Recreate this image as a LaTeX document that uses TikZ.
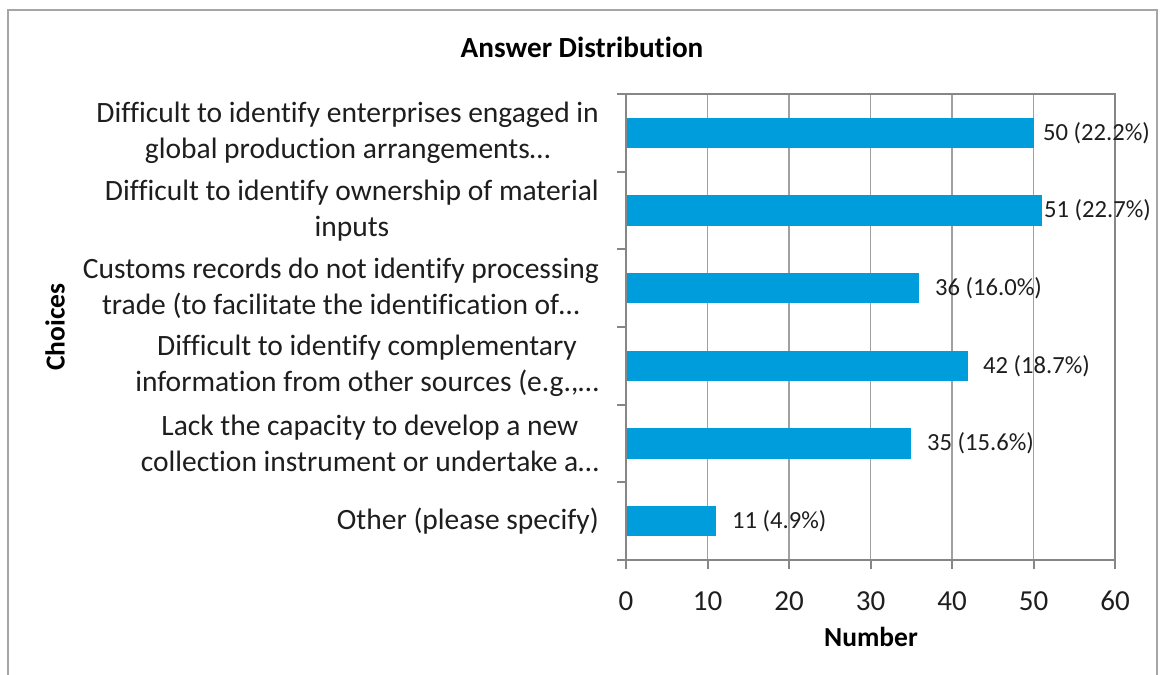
\documentclass[tikz,border=0pt]{standalone}
\usepackage{fontspec}
\setmainfont[Ligatures=NoCommon]{Carlito}
\definecolor{barblue}{RGB}{0,157,220}
\definecolor{gridgray}{RGB}{160,160,160}
\definecolor{axisgray}{RGB}{134,134,134}
\definecolor{framegray}{RGB}{166,166,166}
\definecolor{txt}{RGB}{30,30,30}
\begin{document}
\begin{tikzpicture}[x=1pt,y=-1pt,
  bar/.style={fill=barblue},
  gridline/.style={draw=gridgray,line width=1.3pt},
  axisline/.style={draw=axisgray,line width=2pt},
  catlabel/.style={anchor=east,align=center,inner sep=0pt,text=txt,font=\fontsize{29.5}{35.5}\selectfont},
  vallabel/.style={anchor=west,inner sep=0pt,text=txt,font=\fontsize{24.6}{28}\selectfont},
  ticklabel/.style={anchor=center,inner sep=0pt,text=txt,font=\fontsize{29}{34}\selectfont},
  boldlabel/.style={inner sep=0pt,text=black,font=\fontsize{27.5}{32}\selectfont\bfseries},
  titlelabel/.style={inner sep=0pt,text=black,font=\fontsize{29.2}{34}\selectfont\bfseries}]
\useasboundingbox (0,0) rectangle (1160,675);
\fill[white] (0,0) rectangle (1160,675);
% outer frame
\draw[framegray,line width=1.5pt] (8,690) -- (8,10) -- (1157,10) -- (1157,690);
% title
\node[titlelabel] (title) at (582,47) {Answer Distribution};
% gridlines
\foreach \v in {10,20,30,40,50} {
  \draw[gridline] ({626+\v*8.15},94) -- ({626+\v*8.15},560);
}
% bars
\foreach \v/\i in {50/0,51/1,36/2,42/3,35/4,11/5} {
  \path[bar] (626,{94+77.67*(\i+0.5)-15.3}) rectangle ({626+\v*8.15},{94+77.67*(\i+0.5)+15.3});
}
% plot border
\draw[axisline] (626,94) rectangle (1115,560);
% y ticks
\foreach \i in {0,...,6} {
  \draw[axisline] (617,{94+77.67*\i}) -- (626,{94+77.67*\i});
}
% x ticks and labels
\foreach \v in {0,10,20,30,40,50,60} {
  \draw[axisline] ({626+\v*8.15},560) -- ({626+\v*8.15},569);
  \node[ticklabel] (t\v) at ({626+\v*8.15},601) {\v};
}
% value labels
\node[vallabel] (v1) at (1043,132.8) {50 (22.2\%)};
\node[vallabel] (v2) at (1044,210.5) {51 (22.7\%)};
\node[vallabel] (v3) at (935,288.2) {36 (16.0\%)};
\node[vallabel] (v4) at (983,365.8) {42 (18.7\%)};
\node[vallabel] (v5) at (927,443.5) {35 (15.6\%)};
\node[vallabel] (v6) at (732,521.2) {11 (4.9\%)};
% category labels
\node[catlabel] (c1) at (599,132.8) {Difficult to identify enterprises engaged in\\global production arrangements\ldots};
\node[catlabel] (c2) at (599,210.5) {Difficult to identify ownership of material\\inputs};
\node[catlabel] (c3) at (599,288.2) {Customs records do not identify processing\\trade (to facilitate the identification of\ldots};
\node[catlabel] (c4) at (599,365.8) {Difficult to identify complementary\\information from other sources (e.g.,\ldots};
\node[catlabel] (c5) at (599,443.5) {Lack the capacity to develop a new\\collection instrument or undertake a\ldots};
\node[catlabel] (c6) at (599,521.2) {Other (please specify)};
% axis titles
\node[boldlabel] (xt) at (871,637) {Number};
\node[boldlabel,rotate=90] (yt) at (55,327) {Choices};
\end{tikzpicture}
\end{document}
